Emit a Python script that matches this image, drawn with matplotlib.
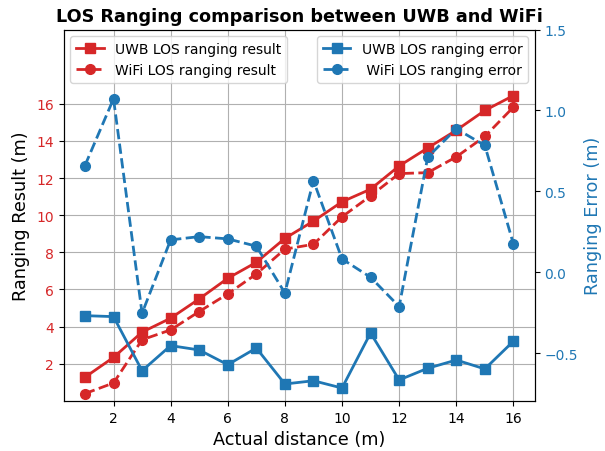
import matplotlib
matplotlib.use("Agg")
import matplotlib.pyplot as plt

# distancies reals (m)
distance = [1, 2, 3, 4, 5, 6, 7, 8, 9, 10, 11, 12, 13, 14, 15, 16]

# resultats de ranging
uwb_result = [1.27, 2.34, 3.70, 4.45, 5.49, 6.60, 7.46, 8.75, 9.68, 10.72,
              11.40, 12.65, 13.62, 14.57, 15.64, 16.44]
wifi_result = [0.39, 0.96, 3.29, 3.82, 4.81, 5.76, 6.83, 8.17, 8.43, 9.91,
               11.04, 12.24, 12.29, 13.14, 14.24, 15.82]

# errors de ranging
uwb_error = [-0.267, -0.273, -0.607, -0.452, -0.479, -0.570, -0.467, -0.689,
             -0.669, -0.714, -0.374, -0.664, -0.592, -0.541, -0.596, -0.425]
wifi_error = [0.660, 1.072, -0.252, 0.201, 0.221, 0.207, 0.162, -0.127,
              0.567, 0.083, -0.030, -0.211, 0.712, 0.887, 0.784, 0.176]

red = "tab:red"
blue = "tab:blue"

fig, ax1 = plt.subplots(figsize=(6.05, 4.52), dpi=100)
fig.subplots_adjust(left=0.105, right=0.884, bottom=0.111, top=0.9325)

ax1.plot(distance, uwb_result, "-s", color=red, lw=2, ms=7, label="UWB LOS ranging result")
ax1.plot(distance, wifi_result, "--o", color=red, lw=2, ms=7, label="WiFi LOS ranging result")
ax1.set_xlabel("Actual distance (m)", fontsize=12.7)
ax1.set_ylabel("Ranging Result (m)", fontsize=12.7)
ax1.set_ylim(0, 20)
ax1.set_yticks(range(2, 18, 2))
ax1.tick_params(axis="y", labelcolor=red)
ax1.grid(True)
ax1.legend(loc="upper left")

ax2 = ax1.twinx()
ax2.plot(distance, uwb_error, "-s", color=blue, lw=2, ms=7, label="UWB LOS ranging error")
ax2.plot(distance, wifi_error, "--o", color=blue, lw=2, ms=7, label=" WiFi LOS ranging error")
ax2.set_ylabel("Ranging Error (m)", color=blue, fontsize=12.7)
ax2.set_ylim(-0.793, 1.5)
ax2.set_yticks([-0.5, 0.0, 0.5, 1.0, 1.5])
ax2.tick_params(axis="y", labelcolor=blue)
ax2.legend(loc="upper right")

ax1.set_title("LOS Ranging comparison between UWB and WiFi", fontsize=12.7, fontweight="bold")

plt.savefig("out.png")
